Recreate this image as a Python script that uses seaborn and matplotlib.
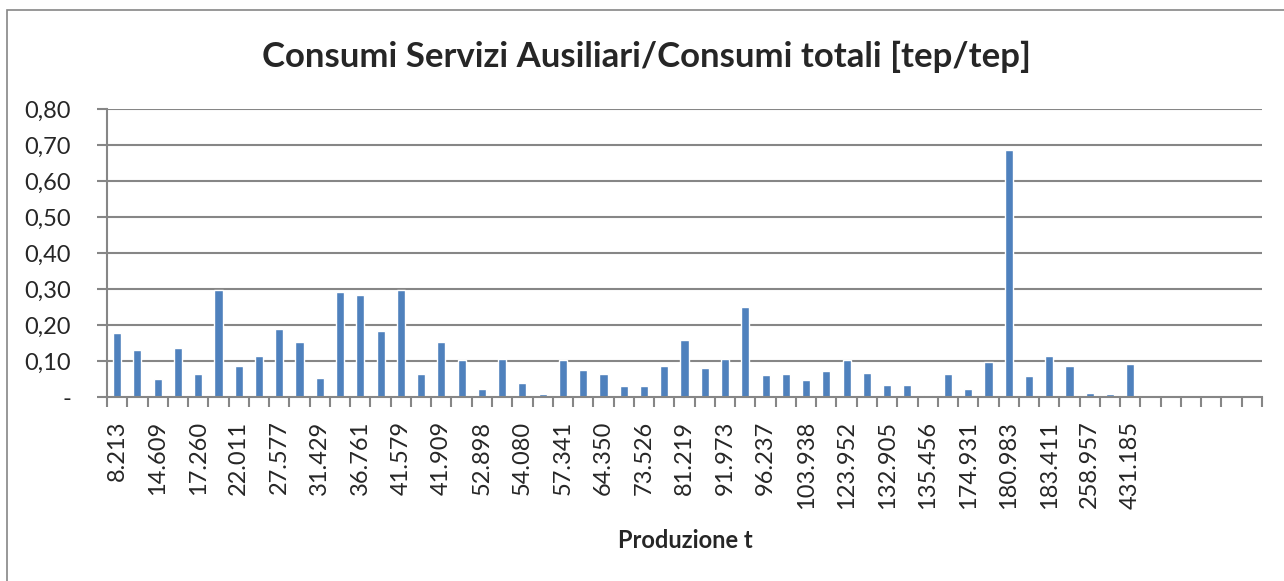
import matplotlib

matplotlib.use("Agg")
import matplotlib.pyplot as plt
import seaborn as sns
from matplotlib.patches import Rectangle

# Production (t) categories, ascending; every other label is hidden on the axis,
# so the in-between names are estimates.
production = [
    "8.213", "11.402", "14.609", "15.870", "17.260", "19.530", "22.011", "24.900",
    "27.577", "29.400", "31.429", "34.100", "36.761", "39.200", "41.579", "41.700",
    "41.909", "47.400", "52.898", "53.500", "54.080", "55.700", "57.341", "60.800",
    "64.350", "68.900", "73.526", "77.400", "81.219", "86.600", "91.973", "94.100",
    "96.237", "100.100", "103.938", "113.900", "123.952", "128.400", "132.905",
    "134.200", "135.456", "155.200", "174.931", "177.900", "180.983", "182.200",
    "183.411", "221.200", "258.957", "345.100", "431.185",
]
ratio = [
    0.177, 0.130, 0.050, 0.136, 0.063, 0.298, 0.085, 0.113, 0.189, 0.154,
    0.052, 0.292, 0.283, 0.183, 0.298, 0.065, 0.153, 0.103, 0.021, 0.106,
    0.038, 0.007, 0.103, 0.075, 0.065, 0.030, 0.030, 0.086, 0.159, 0.081,
    0.106, 0.251, 0.060, 0.065, 0.047, 0.072, 0.103, 0.067, 0.033, 0.033,
    0.006, 0.064, 0.021, 0.098, 0.686, 0.058, 0.114, 0.087, 0.011, 0.007,
    0.092,
]
n_slots = 57  # the sheet range has a few empty rows at the end
y_ticks = [0.0, 0.1, 0.2, 0.3, 0.4, 0.5, 0.6, 0.7, 0.8]

GRAY = "#868686"
BLUE = "#4F81BD"

sns.set_style("white")
plt.rcParams["font.family"] = ["Lato", "DejaVu Sans"]

fig = plt.figure(figsize=(12.84, 5.81), dpi=100)
ax = fig.add_axes([107 / 1284, 1 - 397 / 581, (1262 - 107) / 1284, (397 - 109) / 581])

sns.barplot(x=production, y=ratio, order=production, color=BLUE, width=0.4,
            saturation=1, ax=ax)

ax.set_xlim(-0.5, n_slots - 0.5)
ax.set_ylim(0, 0.8)
ax.set_yticks(y_ticks)
ax.set_yticklabels(["-" if v == 0 else f"{v:.2f}".replace(".", ",") for v in y_ticks],
                   fontsize=17)
for y in y_ticks[1:]:
    ax.axhline(y, color=GRAY, lw=1.5, zorder=0)

major = list(range(0, n_slots, 2))
ax.set_xticks(major)
ax.set_xticklabels([production[i] if i < len(production) else "" for i in major],
                   rotation=90, fontsize=17)
ax.set_xticks([i - 0.5 for i in range(n_slots + 1)], minor=True)
ax.tick_params(axis="x", which="major", length=0, pad=17)
ax.tick_params(axis="x", which="minor", length=7, width=1.5, color=GRAY, direction="out")
ax.tick_params(axis="y", length=7, width=1.5, color=GRAY, direction="out", pad=19)
ax.xaxis.set_ticks_position("bottom")
ax.yaxis.set_ticks_position("left")

for side in ("top", "right"):
    ax.spines[side].set_visible(False)
for side in ("left", "bottom"):
    ax.spines[side].set_color(GRAY)
    ax.spines[side].set_linewidth(1.5)

ax.set_xlabel("")
ax.set_ylabel("")
fig.text(685 / 1284, 1 - 540 / 581, "Produzione t", ha="center", va="center",
         fontsize=17, fontweight="bold")
fig.text(646 / 1284, 1 - 57 / 581, "Consumi Servizi Ausiliari/Consumi totali [tep/tep]",
         ha="center", va="center", fontsize=25, fontweight="bold")

# chart-area frame, cut off at the right and bottom edges of the picture
fig.patches.append(Rectangle((7 / 1284, -0.2), 1.2, 1.2 + (1 - 10 / 581) - 1,
                             transform=fig.transFigure, fill=False,
                             edgecolor=GRAY, lw=1.2))

fig.savefig("out.png", dpi=100)
